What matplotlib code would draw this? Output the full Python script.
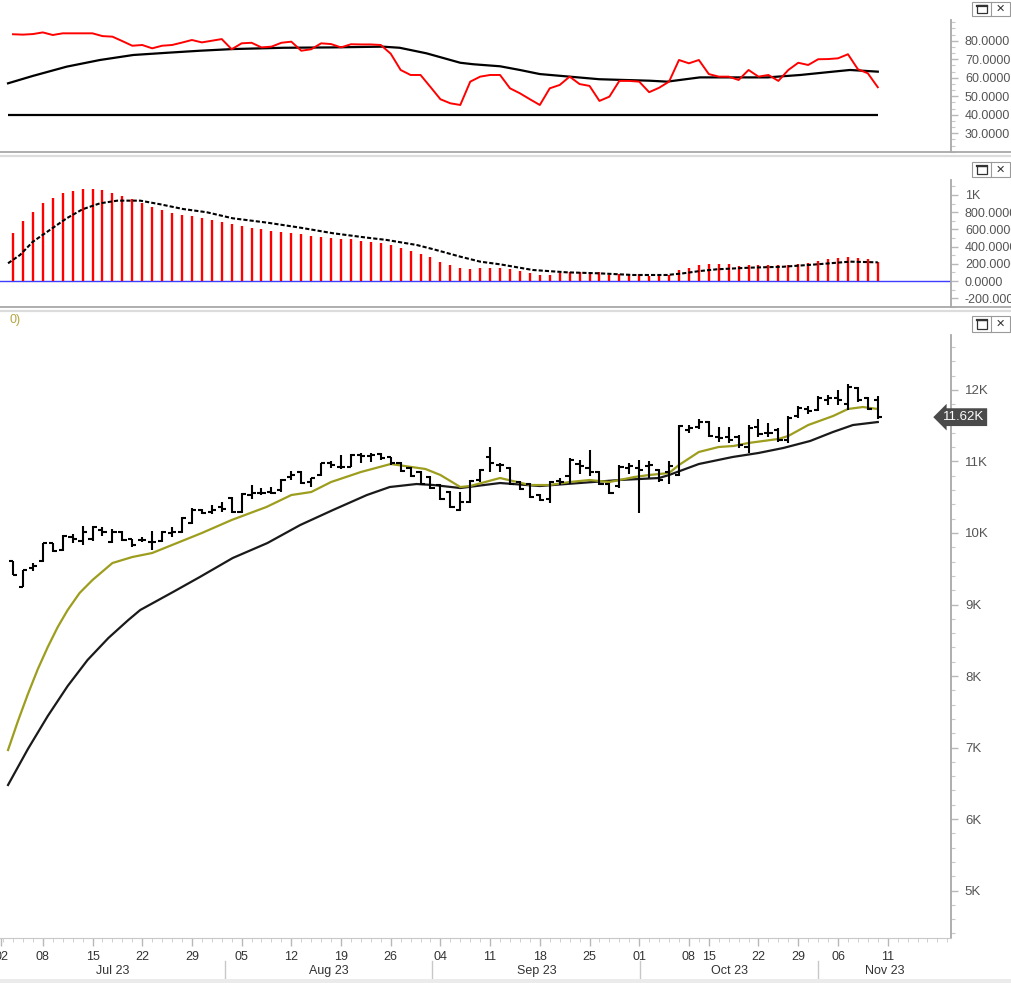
import matplotlib
matplotlib.use("Agg")
import matplotlib.pyplot as plt
from matplotlib.ticker import FixedLocator, MultipleLocator, AutoMinorLocator, FuncFormatter
from matplotlib.patches import Rectangle
from matplotlib.lines import Line2D

W, H = 1012, 983

# ---------------- data ----------------
opens = [9605, 9249, 9506, 9613, 9855, 9762, 9948, 9893, 9912, 10042,
         9879, 10019, 9912, 9902, 9879, 9893, 10005, 10019, 10135, 10322,
         10298, 10359, 10485, 10298, 10531, 10564, 10578, 10601, 10788, 10858,
         10718, 10811, 10974, 10928, 10928, 11091, 11081, 11100, 11058, 10979,
         10909, 10853, 10783, 10671, 10573, 10322, 10434, 10741, 11063, 10951,
         10909, 10713, 10685, 10531, 10476, 10727, 10797, 10965, 10909, 10853,
         10685, 10657, 10909, 10909, 10937, 10881, 10853, 10811, 11441, 11482,
         11552, 11343, 11343, 11343, 11203, 11482, 11399, 11441, 11301, 11636,
         11734, 11720, 11860, 11888, 11804, 12028, 11888, 11860]
highs = [9605, 9483, 9576, 9855, 9865, 9967, 9986, 10098, 10098, 10079,
         10051, 10028, 9921, 9948, 10033, 10033, 10079, 10219, 10345, 10331,
         10392, 10438, 10499, 10564, 10671, 10625, 10648, 10751, 10872, 10867,
         10765, 10984, 11011, 11091, 11100, 11123, 11123, 11114, 11067, 10993,
         10923, 10867, 10797, 10685, 10587, 10573, 10741, 10895, 11203, 10979,
         10923, 10727, 10699, 10545, 10727, 10769, 11049, 11021, 11161, 10867,
         10699, 10951, 10979, 11021, 11007, 10895, 11007, 11510, 11510, 11594,
         11566, 11482, 11482, 11371, 11510, 11594, 11538, 11468, 11636, 11776,
         11776, 11916, 11930, 12000, 12084, 12042, 11902, 11916]
lows = [9413, 9249, 9473, 9599, 9739, 9743, 9855, 9832, 9893, 9958,
        9865, 9893, 9809, 9879, 9762, 9879, 9948, 10005, 10126, 10266,
        10266, 10298, 10284, 10284, 10471, 10531, 10545, 10578, 10741, 10685,
        10648, 10797, 10905, 10891, 10919, 10974, 10998, 11021, 10951, 10853,
        10783, 10671, 10615, 10462, 10350, 10308, 10420, 10713, 10853, 10853,
        10671, 10601, 10490, 10448, 10420, 10671, 10685, 10825, 10797, 10671,
        10545, 10629, 10825, 10280, 10769, 10713, 10685, 10797, 11399, 11454,
        11343, 11273, 11259, 11189, 11119, 11343, 11343, 11273, 11259, 11608,
        11664, 11706, 11790, 11790, 11720, 11832, 11720, 11594]
closes = [9413, 9483, 9538, 9855, 9752, 9958, 9922, 10010, 10079, 10014,
          10019, 9902, 9832, 9902, 9879, 10019, 10019, 10205, 10322, 10284,
          10322, 10331, 10298, 10545, 10564, 10564, 10564, 10741, 10811, 10695,
          10765, 10974, 10951, 10928, 11091, 11077, 11091, 11044, 10974, 10867,
          10797, 10685, 10629, 10476, 10364, 10434, 10727, 10881, 10979, 10951,
          10685, 10615, 10503, 10462, 10713, 10713, 11021, 10937, 10853, 10685,
          10559, 10923, 10937, 10881, 10951, 10741, 10937, 11496, 11468, 11552,
          11357, 11329, 11301, 11231, 11468, 11385, 11399, 11301, 11608, 11748,
          11706, 11888, 11888, 11860, 12042, 11860, 11734, 11620]
last_price = 11620

fast_ma_x = [-0.5, 0.5, 1.5, 2.5, 3.5, 4.5, 5.5, 6.7, 8, 10, 12, 14, 16, 19, 22, 25.5,
             28, 30, 32, 35, 38, 41.5, 43, 45, 46, 49, 52, 54, 56, 58, 60, 62.5, 64,
             66, 67, 69, 71, 72.5, 74, 77, 78, 80, 82.5, 84, 85.5, 87]
fast_ma = [6965, 7371, 7748, 8098, 8406, 8685, 8923, 9161, 9343, 9580, 9664, 9720,
           9832, 10000, 10182, 10364, 10531, 10573, 10713, 10853, 10965, 10895,
           10811, 10643, 10657, 10769, 10671, 10671, 10713, 10741, 10713, 10783,
           10811, 10839, 10951, 11133, 11203, 11217, 11259, 11315, 11357, 11510,
           11636, 11734, 11762, 11734]

slow_ma_x = [-0.5, 1.5, 3.5, 5.5, 7.5, 9.6, 11.6, 12.8, 16.1, 18.8, 22.1, 25.6, 28.9,
             32.2, 35.6, 37.9, 40.6, 42.3, 45, 49, 53, 57, 61, 65, 66, 69, 72.4, 75,
             77.5, 80.2, 82.5, 84.5, 87]
slow_ma = [6476, 6979, 7441, 7860, 8224, 8532, 8783, 8923, 9175, 9385, 9650, 9860,
           10112, 10322, 10531, 10643, 10685, 10671, 10629, 10699, 10657, 10699,
           10741, 10769, 10811, 10965, 11063, 11119, 11189, 11287, 11413, 11510, 11552]

rsi = [83.5, 83.3, 83.6, 84.5, 83.1, 84.0, 84.0, 84.0, 84.0, 82.5,
       82.2, 79.8, 77.3, 77.7, 75.9, 77.3, 77.7, 79.0, 80.4, 79.1,
       80.0, 80.9, 75.4, 78.6, 78.9, 76.4, 76.8, 78.9, 79.5, 74.6,
       75.4, 78.6, 78.2, 76.4, 78.1, 78.0, 78.0, 77.7, 73.0, 64.2,
       61.5, 61.5, 55.0, 48.4, 46.2, 45.3, 57.9, 60.6, 61.5, 61.5,
       54.3, 51.6, 48.4, 45.3, 54.3, 56.1, 60.6, 56.6, 55.6, 47.5,
       49.8, 58.3, 58.3, 57.9, 52.2, 54.6, 57.9, 69.6, 67.8, 69.6,
       62.0, 60.6, 60.6, 58.8, 64.2, 60.6, 61.5, 58.3, 64.2, 68.1,
       66.9, 70.0, 70.1, 70.5, 72.7, 64.6, 62.4, 54.9]
rsi_ma_x = [-0.5, 2, 5.4, 8.75, 12.1, 15.5, 18.8, 22.1, 27.2, 32.2, 37.2, 38.9, 41.6,
            45, 46.3, 49, 51, 53, 59, 64.1, 65.8, 69.1, 75.9, 79.2, 82.5, 84.2, 87]
rsi_ma = [57.0, 61.0, 66.0, 69.6, 72.3, 73.5, 74.6, 75.5, 76.2, 76.4, 76.8, 76.2, 73.2,
          68.1, 67.3, 66.2, 64.2, 62.0, 59.2, 58.4, 57.9, 60.2, 60.2, 61.5, 63.3, 64.2, 63.3]
rsi_level = 40

hist = [555, 698, 806, 903, 961, 1019, 1050, 1066, 1066, 1054,
        1027, 992, 953, 903, 864, 826, 787, 767, 756, 729,
        709, 690, 659, 640, 620, 605, 581, 574, 562, 543,
        527, 515, 504, 488, 484, 465, 457, 438, 419, 388,
        349, 310, 275, 225, 186, 147, 140, 147, 147, 147,
        136, 116, 89, 70, 70, 89, 101, 101, 101, 101,
        70, 78, 81, 78, 62, 70, 70, 128, 155, 186,
        194, 194, 194, 178, 186, 186, 186, 186, 186, 194,
        206, 233, 256, 271, 283, 271, 256, 225]
hist_ma_x = [-0.5, 0.7, 2, 3.7, 5.4, 7, 8.75, 10.5, 12.8, 14.8, 17.1, 19.5, 22.1, 25.6,
             28.9, 32.2, 35.6, 37.6, 40.6, 42.3, 45, 47, 49, 52.3, 55.7, 59, 62.4,
             65.8, 67.4, 69.1, 70.8, 74.1, 77.5, 80.9, 84.2, 87]
hist_ma = [206, 302, 457, 593, 729, 834, 903, 934, 934, 892, 837, 799, 729, 678,
           620, 555, 504, 477, 419, 369, 283, 225, 194, 128, 101, 89, 70,
           70, 89, 116, 136, 155, 166, 194, 225, 217]

day_ticks = [-1.2, 3, 8, 13, 18, 23, 28, 33, 38, 43, 48, 53, 58, 63, 68, 70, 75, 79, 83, 88]
day_labels = ["02", "08", "15", "22", "29", "05", "12", "19", "26", "04",
              "11", "18", "25", "01", "08", "15", "22", "29", "06", "11"]
month_labels = ["Jul 23", "Aug 23", "Sep 23", "Oct 23", "Nov 23"]
month_edges = [21.3, 42.2, 63.1, 81.0]

# ---------------- figure ----------------
plt.rcParams['font.family'] = ['Liberation Sans', 'DejaVu Sans']
narrow = ['Liberation Sans Narrow', 'Liberation Sans', 'DejaVu Sans']

fig = plt.figure(figsize=(W / 100, H / 100), dpi=100, facecolor='white')


def fig_rect(x0, y0, x1, y1):
    return [x0 / W, 1 - y1 / H, (x1 - x0) / W, (y1 - y0) / H]


ax_top = fig.add_axes(fig_rect(0, 20, 951, 152))
ax_mid = fig.add_axes(fig_rect(0, 180, 951, 307))
ax_main = fig.add_axes(fig_rect(0, 335, 951, 938))

xlim = (-13 / 9.94, (951 - 13) / 9.94)
idx = list(range(len(closes)))

for ax in (ax_top, ax_mid, ax_main):
    ax.set_xlim(*xlim)
    ax.set_facecolor('white')
    for s in ('left', 'top', 'bottom'):
        ax.spines[s].set_visible(False)
    ax.spines['right'].set_color('#a8a8a8')
    ax.spines['right'].set_linewidth(1.3)
    ax.yaxis.tick_right()
    ax.tick_params(axis='y', which='major', length=5, width=1, color='#b8b8b8',
                   labelsize=9, labelcolor='#555555', pad=5)
    ax.tick_params(axis='y', which='minor', length=3, width=0.8, color='#c8c8c8')
    ax.tick_params(axis='x', which='both', bottom=False, labelbottom=False)

# ---- top panel ----
ax_top.set_ylim(19.9, 91.2)
ax_top.hlines(rsi_level, rsi_ma_x[0], rsi_ma_x[-1], color='black', lw=1.6)
ax_top.plot(rsi_ma_x, rsi_ma, color='black', lw=1.6)
ax_top.plot(idx, rsi, color='#ff0000', lw=1.4)
ax_top.yaxis.set_major_locator(FixedLocator([30, 40, 50, 60, 70, 80]))
ax_top.yaxis.set_minor_locator(AutoMinorLocator(3))
ax_top.yaxis.set_major_formatter(FuncFormatter(lambda v, p: f"{v:.4f}"))

# ---- middle panel ----
ax_mid.set_ylim(-302, 1174)
ax_mid.axhline(0, color='#3d3dff', lw=1)
ax_mid.vlines(idx, 0, hist, color='#ff0000', lw=1.7)
ax_mid.plot(hist_ma_x, hist_ma, color='black', lw=1.5, ls=(0, (2, 1)))
ax_mid.yaxis.set_major_locator(FixedLocator([-200, 0, 200, 400, 600, 800, 1000]))
ax_mid.yaxis.set_minor_locator(AutoMinorLocator(2))
ax_mid.yaxis.set_major_formatter(
    FuncFormatter(lambda v, p: "1K" if v >= 1000 else f"{v:.4f}"))

# ---- main panel ----
ax_main.set_ylim(4336, 12769)
ax_main.plot(slow_ma_x, slow_ma, color='#1a1a1a', lw=1.6)
ax_main.plot(fast_ma_x, fast_ma, color='#9d9d1e', lw=1.6)
ax_main.vlines(idx, lows, highs, color='black', lw=1.5)
ax_main.hlines(opens, [i - 0.42 for i in idx], idx, color='black', lw=1.5)
ax_main.hlines(closes, idx, [i + 0.42 for i in idx], color='black', lw=1.5)
ax_main.yaxis.set_major_locator(MultipleLocator(1000))
ax_main.yaxis.set_minor_locator(MultipleLocator(200))
ax_main.yaxis.set_major_formatter(FuncFormatter(lambda v, p: f"{v / 1000:.0f}K"))
ax_main.tick_params(axis='y', which='major', labelsize=9.5)

ax_main.spines['bottom'].set_visible(True)
ax_main.spines['bottom'].set_color('#c8c8c8')
ax_main.set_xticks(day_ticks, day_labels)
ax_main.xaxis.set_minor_locator(MultipleLocator(1))
ax_main.tick_params(axis='x', which='major', bottom=True, labelbottom=True, length=6,
                    width=1, color='#b8b8b8', labelsize=9, labelcolor='#333333', pad=3)
ax_main.tick_params(axis='x', which='minor', bottom=True, length=3, width=0.7,
                    color='#d0d0d0')
for lab in ax_main.get_xticklabels():
    lab.set_family(narrow)

# month row
edges = [xlim[0]] + month_edges + [xlim[1]]
xt = ax_main.get_xaxis_transform()
for k, name in enumerate(month_labels):
    ax_main.text((edges[k] + edges[k + 1]) / 2, -0.0547, name, transform=xt,
                 ha='center', va='center', fontsize=9, color='#333333', family=narrow)
for e in month_edges:
    ax_main.add_line(Line2D([e, e], [-0.038, -0.074], transform=xt, color='#c8c8c8',
                            lw=1, clip_on=False))

# last price tag
ax_main.text(943 / 951, last_price, f"{last_price / 1000:.2f}K",
             transform=ax_main.get_yaxis_transform(), ha='left', va='center',
             color='white', fontsize=9.5,
             bbox=dict(boxstyle='larrow,pad=0.22', fc='#4a4a4a', ec='none'))

# ---------------- window chrome ----------------
for y in (151.5, 307):
    fig.add_artist(Line2D([0, 1], [1 - y / H] * 2, transform=fig.transFigure,
                          color='#a8a8a8', lw=1.3))
for y in (155.8, 311.3):
    fig.add_artist(Line2D([0, 1], [1 - y / H] * 2, transform=fig.transFigure,
                          color='#dcdcdc', lw=1.6))

for y0, y1 in ((2, 16), (162, 177), (316, 332)):
    fig.add_artist(Rectangle((972 / W, 1 - y1 / H), 38 / W, (y1 - y0) / H,
                             transform=fig.transFigure, fc='white', ec='#9a9a9a', lw=0.8))
    fig.add_artist(Line2D([991 / W] * 2, [1 - y1 / H, 1 - y0 / H],
                          transform=fig.transFigure, color='#9a9a9a', lw=0.8))
    fig.add_artist(Rectangle((977 / W, 1 - (y1 - 3.5) / H), 10 / W, (y1 - y0 - 7) / H,
                             transform=fig.transFigure, fc='none', ec='#333333', lw=0.9))
    fig.add_artist(Line2D([977 / W, 987 / W], [1 - (y0 + 4) / H] * 2,
                          transform=fig.transFigure, color='#333333', lw=1.6))
    fig.text(1000.5 / W, 1 - (y0 + y1) / 2 / H, "\u2715", ha='center', va='center',
             fontsize=8, color='#333333', family=['DejaVu Sans'])

fig.text(10 / W, 1 - 320 / H, "0)", color='#b4a442', fontsize=9, va='center')
fig.add_artist(Rectangle((0, 0), 1, 4 / H, transform=fig.transFigure,
                         fc='#ebebeb', ec='none'))

fig.savefig('out.png', dpi=100)
